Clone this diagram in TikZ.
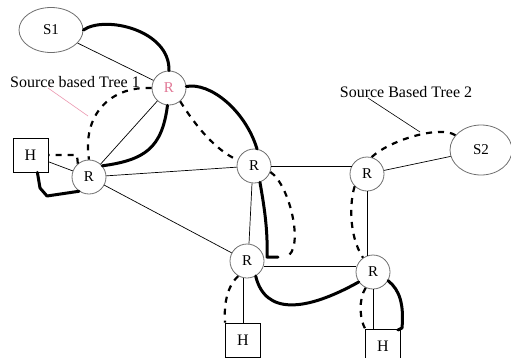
\documentclass[tikz,border=0pt]{standalone}
\usepackage{fontspec}
\setmainfont{Liberation Serif}
\usetikzlibrary{shapes.geometric}
\definecolor{pk}{RGB}{235,150,175}
\definecolor{pkt}{RGB}{225,120,150}
\definecolor{rim}{RGB}{110,110,110}
\begin{document}
\begin{tikzpicture}[x=1pt,y=-1pt,
 router/.style={circle,draw=rim,line width=0.8pt,minimum size=34pt,inner sep=0pt,font=\fontsize{15}{15}\selectfont},
 host/.style={rectangle,draw,line width=0.8pt,minimum width=35pt,minimum height=34pt,inner sep=0pt,font=\fontsize{16}{16}\selectfont},
 src/.style={ellipse,draw=rim,line width=0.8pt,minimum width=64pt,minimum height=45pt,inner sep=0pt,font=\fontsize{15}{15}\selectfont},
 lbl/.style={inner sep=0pt,font=\fontsize{16}{16}\selectfont},
 link/.style={line width=0.7pt},
 tree/.style={line width=3pt,line cap=round,line join=round},
 dtree/.style={line width=2.2pt,dash pattern=on 6pt off 6pt}]
\useasboundingbox (0,0) rectangle (511,357);
% nodes
\node[src] (S1) at (51,30) {S1};
\node[src,minimum width=62pt,minimum height=50pt] (S2) at (481,150) {S2};
\node[router,text=pkt] (R1) at (169,88) {R};
\node[router] (R2) at (89,177) {R};
\node[router] (R3) at (254,166) {R};
\node[router] (R4) at (247,261) {R};
\node[router] (R5) at (367,174) {R};
\node[router] (R6) at (373,272) {R};
\node[host] (H1) at (30.5,155) {H};
\node[host] (H2) at (243,340) {H};
\node[host] (H3) at (383,346) {H};
\node[lbl] (T1) at (75,82) {Source based Tree 1};
\node[lbl] (T2) at (406,92) {Source Based Tree 2};
\coordinate (p1) at (48,88);
\coordinate (p2) at (88,116);
\coordinate (q1) at (368,98);
\coordinate (q2) at (420,132);
% thin links
\draw[link] (S1) -- (R1);
\draw[link] (R1) -- (R2);
\draw[link] (R2) -- (R3);
\draw[link] (H1) -- (R2);
\draw[link] (R2) -- (R4);
\draw[link] ([xshift=-2pt]R3.south) -- ([xshift=2pt]R4.north);
\draw[link] (R3.east) -- (R3.east -| R5.150);
\draw[link] (R5) -- (S2);
\draw[link] (R5.south) -- (R5.south |- R6.110);
\draw[link] ([yshift=-5pt]R4.east) -- ([yshift=6pt]R6.west);
\draw[link] (H2.north |- R4.south) -- (H2.north);
\draw[link] (R6.south) -- (R6.south |- H3.north);
\draw[pk,line width=0.6pt] (p1) -- (p2);
\draw[line width=0.6pt] (q1) -- (q2);
% thick tree paths
\draw[tree] (S1.east) .. controls (105,15) and (170,30) .. (R1.north);
\draw[tree] (R1.265) .. controls (162,148) and (145,160) .. (R2.40);
\draw[tree] (R1.5) .. controls (210,82) and (245,110) .. (R3.80);
\draw[tree] (R3.290) .. controls (264,205) and (268,230) .. (267,257) -- (278,257);
\draw[tree] (R2.235) -- (47,196) -- (40,188) -- ([xshift=-11pt]H1.south east);
\draw[tree] (R4.300) .. controls (265,315) and (305,312) .. (R6.215);
\draw[tree] (R6.330) .. controls (400,290) and (404,305) .. (402,328) -- (398,330);
% dashed tree paths
\draw[dtree] (R1.180) .. controls (110,86) and (82,115) .. (R2.north);
\draw[dtree] (R2.130) -- (77,155) -- (H1.east);
\draw[dtree] (R1.310) .. controls (195,125) and (215,150) .. (R3.160);
\draw[dtree] (R3.340) .. controls (290,185) and (305,250) .. (286,257);
\draw[dtree] (S2.150) .. controls (440,125) and (390,140) .. (R5.75);
\draw[dtree] (R5.225) .. controls (350,200) and (348,235) .. (R6.125);
\draw[dtree] (R4.240) .. controls (225,288) and (224,310) .. (H2.north west);
\draw[dtree] (R6.245) .. controls (358,300) and (360,320) .. (H3.north west);
\end{tikzpicture}
\end{document}
